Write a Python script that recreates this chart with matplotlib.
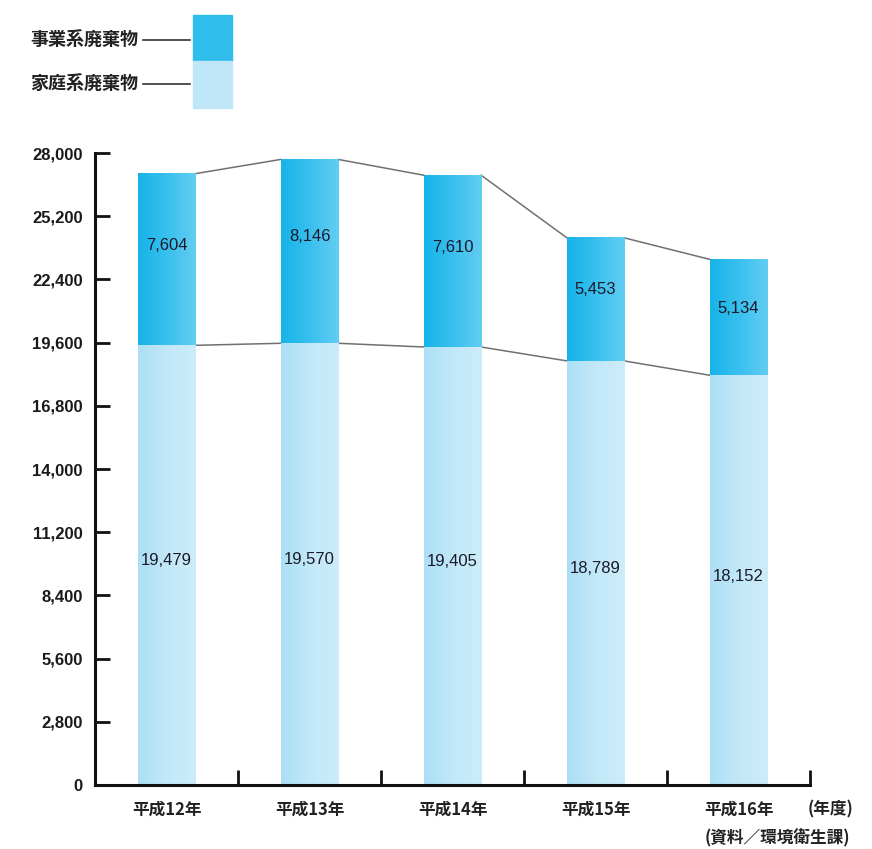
import matplotlib
matplotlib.use("Agg")
import matplotlib.pyplot as plt
import numpy as np
from matplotlib.colors import LinearSegmentedColormap
from matplotlib.patches import Rectangle
from matplotlib.lines import Line2D

plt.rcParams["font.family"] = ["Noto Sans CJK JP", "DejaVu Sans"]

# data (t/year)
years = ["平成12年", "平成13年", "平成14年", "平成15年", "平成16年"]
household = [19479, 19570, 19405, 18789, 18152]
business = [7604, 8146, 7610, 5453, 5134]
yticks = list(range(0, 28001, 2800))

biz_cmap = LinearSegmentedColormap.from_list("biz", ["#16b4e9", "#39c0ee", "#62cdf2"])
home_cmap = LinearSegmentedColormap.from_list("home", ["#acdff5", "#c2e8f8", "#cdecf9"])
grad = np.linspace(0, 1, 64).reshape(1, -1)

fig = plt.figure(figsize=(8.72, 8.49), dpi=100)
ax = fig.add_axes([95 / 872, 64 / 849, 715 / 872, 632 / 849])

x = np.arange(len(years))
w = 0.4
tot = np.array(household) + np.array(business)

for i in x:
    ax.imshow(grad, cmap=home_cmap, aspect="auto", interpolation="bicubic",
              extent=(i - w / 2, i + w / 2, 0, household[i]), zorder=2)
    ax.imshow(grad, cmap=biz_cmap, aspect="auto", interpolation="bicubic",
              extent=(i - w / 2, i + w / 2, household[i], tot[i]), zorder=2)
    ax.text(i, household[i] * 0.51, f"{household[i]:,}", ha="center", va="center",
            fontsize=12, color="#1a1a2a", family="Liberation Sans", zorder=3)
    ax.text(i, household[i] + business[i] * 0.58, f"{business[i]:,}", ha="center",
            va="center", fontsize=12, color="#1a1a2a", family="Liberation Sans", zorder=3)

# connecting lines between bars
for i in x[:-1]:
    ax.plot([i + w / 2, i + 1 - w / 2], [tot[i], tot[i + 1]], color="#707070", lw=1.1, zorder=1)
    ax.plot([i + w / 2, i + 1 - w / 2], [household[i], household[i + 1]], color="#707070",
            lw=1.1, zorder=1)

ax.set_xlim(-0.5, 4.5)
ax.set_ylim(0, 28000)
ax.set_yticks(yticks)
ax.set_yticklabels([f"{v:,}" for v in yticks], family="Liberation Sans", fontweight="bold")
ax.set_xticks(x + 0.5)
ax.set_xticklabels([])
ax.tick_params(axis="both", direction="in", length=11, width=2, color="#111111",
               labelsize=12, pad=9, labelcolor="#1a1a1a")
for s in ["top", "right"]:
    ax.spines[s].set_visible(False)
for s in ["left", "bottom"]:
    ax.spines[s].set_linewidth(2.2)
    ax.spines[s].set_color("#111111")

for i, lab in enumerate(years):
    ax.text(i, -1100, lab, ha="center", va="center", fontsize=12, fontweight="bold",
            color="#222222")
ax.text(4.64, -1100, "(年度)", ha="center", va="center", fontsize=12, fontweight="bold",
        color="#222222", clip_on=False)
ax.text(4.78, -2350, "(資料／環境衛生課)", ha="right", va="center", fontsize=12,
        fontweight="bold", color="#222222", clip_on=False)

# legend at top left
fig.patches.append(Rectangle((193 / 872, 1 - 61 / 849), 39 / 872, 46 / 849,
                             transform=fig.transFigure, color="#2fbdec"))
fig.patches.append(Rectangle((193 / 872, 1 - 108 / 849), 39 / 872, 47 / 849,
                             transform=fig.transFigure, color="#c0e7f8"))
for lab, yy in [("事業系廃棄物", 40), ("家庭系廃棄物", 84)]:
    fig.text(30 / 872, 1 - yy / 849, lab, ha="left", va="center", fontsize=13,
             fontweight="bold", color="#222222")
    fig.lines.append(Line2D([143 / 872, 190 / 872], [1 - yy / 849, 1 - yy / 849],
                            transform=fig.transFigure, color="#333333", lw=1.2))

fig.savefig("out.png", dpi=100)
